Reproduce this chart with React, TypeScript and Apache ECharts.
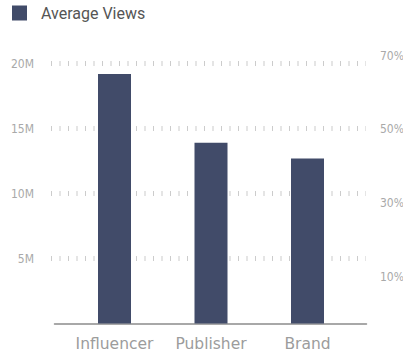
import React, { useEffect, useRef } from "react";
import * as echarts from "echarts";

const categories = ["Influencer", "Publisher", "Brand"];
const averageViews = [19200000, 13900000, 12700000];
const seriesName = "Average Views";
const leftTicksMax = 20000000;
const leftInterval = 5000000;
const rightMax = 70.65;
const rightInterval = 10;

const BAR_COLOR = "#414b69";
const AXIS_FONT = "'Liberation Sans Narrow', 'DejaVu Sans Condensed', 'Roboto', sans-serif";

export default function App() {
  const ref = useRef<HTMLDivElement>(null);
  useEffect(() => {
    document.body.style.margin = "0";
    if (!ref.current) return;
    const chart = echarts.init(ref.current, undefined, { renderer: "svg" });
    const top = 63.5;
    const bottom = 353 - 323.5;
    chart.setOption({
      animation: false,
      backgroundColor: "#ffffff",
      legend: {
        left: 12,
        top: 5,
        padding: 0,
        icon: "rect",
        itemWidth: 15,
        itemHeight: 15,
        data: [seriesName],
        textStyle: {
          fontFamily: "Roboto, sans-serif",
          fontSize: 16,
          color: "#555555",
          padding: [0, 0, 0, 9],
        },
      },
      grid: [
        { left: 51, right: 37, top, bottom, outerBoundsMode: "none", containLabel: false },
        { left: 66.25, right: 47.25, top, bottom, outerBoundsMode: "none", containLabel: false },
        { left: 54.5, right: 36.5, top, bottom, outerBoundsMode: "none", containLabel: false },
      ],
      xAxis: [
        { gridIndex: 0, type: "value", show: false },
        {
          gridIndex: 1,
          type: "category",
          data: categories,
          axisLine: { show: false },
          axisTick: { show: false },
          axisLabel: {
            interval: 0,
            hideOverlap: false,
            margin: 12,
            fontFamily: "'DejaVu Sans', sans-serif",
            fontSize: 15.5,
            color: "#9c9c9c",
          },
        },
        {
          gridIndex: 2,
          type: "value",
          axisLine: { show: true, lineStyle: { color: "#8c8c8c", width: 1.5 } },
          axisTick: { show: false },
          axisLabel: { show: false },
          splitLine: { show: false },
        },
      ],
      yAxis: [
        {
          gridIndex: 0,
          type: "value",
          min: 0,
          max: leftTicksMax,
          interval: leftInterval,
          axisLine: { show: false },
          axisTick: { show: false },
          axisLabel: {
            margin: 17,
            showMinLabel: false,
            fontFamily: AXIS_FONT,
            fontSize: 12,
            color: "#a9a9a9",
            formatter: (v: number) => v / 1000000 + "M",
          },
          splitLine: {
            show: true,
            showMinLine: false,
            lineStyle: { color: "#cccccc", width: 5, type: [1, 7.5] },
          },
        },
        {
          gridIndex: 0,
          type: "value",
          position: "right",
          min: 0,
          max: rightMax,
          interval: rightInterval,
          axisLine: { show: false },
          axisTick: { show: false },
          splitLine: { show: false },
          axisLabel: {
            margin: 14,
            showMaxLabel: false,
            fontFamily: AXIS_FONT,
            fontSize: 12,
            color: "#a9a9a9",
            verticalAlign: "bottom",
            padding: [0, 0, 4, 0],
            formatter: (v: number) => (Math.round(v / 10) % 2 === 1 ? Math.round(v) + "%" : ""),
          },
        },
        { gridIndex: 1, type: "value", min: 0, max: leftTicksMax, show: false },
        { gridIndex: 2, type: "value", show: false },
      ],
      series: [
        {
          name: seriesName,
          type: "bar",
          xAxisIndex: 1,
          yAxisIndex: 2,
          data: averageViews,
          barWidth: 33,
          itemStyle: { color: BAR_COLOR },
        },
      ],
    });
    return () => chart.dispose();
  }, []);
  return <div ref={ref} style={{ width: 403, height: 353 }} />;
}
